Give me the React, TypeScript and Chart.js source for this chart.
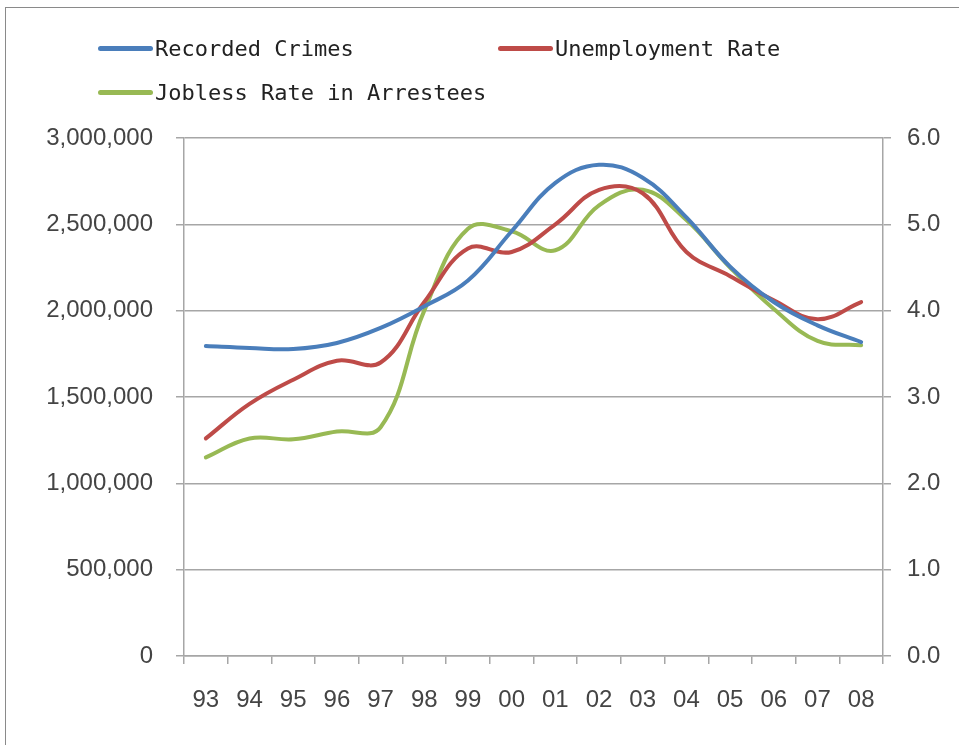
import React, { useEffect, useRef } from "react";
import { Chart, registerables } from "chart.js";

Chart.register(...registerables);

const years = ["93", "94", "95", "96", "97", "98", "99", "00", "01", "02", "03", "04", "05", "06", "07", "08"];
const recordedCrimes = [1795000, 1784000, 1778000, 1813000, 1900000, 2025000, 2175000, 2460000, 2740000, 2845000, 2770000, 2540000, 2255000, 2050000, 1915000, 1818000];
const unemploymentRate = [2.52, 2.92, 3.2, 3.42, 3.4, 4.1, 4.72, 4.68, 5.0, 5.4, 5.36, 4.68, 4.4, 4.12, 3.9, 4.1];
const joblessRateInArrestees = [2.3, 2.52, 2.51, 2.6, 2.65, 4.0, 4.95, 4.92, 4.7, 5.22, 5.4, 5.05, 4.5, 4.02, 3.65, 3.6];

const BLUE = "#4a7ebb";
const RED = "#be4b48";
const GREEN = "#98b954";
const GRID = "#a6a6a6";
const TICK_FONT = { family: "'Liberation Sans', Arial, sans-serif", size: 24 };
const TICK_COLOR = "#444";

const legendItems = [
  { label: "Recorded Crimes", color: BLUE, x: 98, y: 48 },
  { label: "Unemployment Rate", color: RED, x: 498, y: 48 },
  { label: "Jobless Rate in Arrestees", color: GREEN, x: 98, y: 92 },
];

export default function App() {
  const ref = useRef<HTMLCanvasElement>(null);

  useEffect(() => {
    if (!ref.current) return;
    const chart = new Chart(ref.current, {
      type: "line",
      data: {
        labels: years,
        datasets: [
          { label: "Recorded Crimes", data: recordedCrimes, borderColor: BLUE, yAxisID: "y" },
          { label: "Unemployment Rate", data: unemploymentRate, borderColor: RED, yAxisID: "y1" },
          { label: "Jobless Rate in Arrestees", data: joblessRateInArrestees, borderColor: GREEN, yAxisID: "y1" },
        ].map((d) => ({ ...d, borderWidth: 4, pointRadius: 0, tension: 0.4, fill: false, borderCapStyle: "round" as const })),
      },
      options: {
        responsive: false,
        animation: false,
        layout: { padding: { top: 138, left: 0, right: 0, bottom: 0 } },
        plugins: { legend: { display: false }, tooltip: { enabled: false }, title: { display: false } },
        scales: {
          x: {
            type: "category",
            offset: true,
            grid: { offset: true, drawOnChartArea: false, tickLength: 8, color: GRID, lineWidth: 1.5 },
            border: { color: GRID, width: 1.5 },
            ticks: { font: TICK_FONT, color: TICK_COLOR, padding: 22, maxRotation: 0, autoSkip: false },
            afterFit: (s: any) => { s.height = 89; },
          },
          y: {
            position: "left",
            min: 0,
            max: 3000000,
            grid: { color: GRID, lineWidth: 1.5, tickLength: 8 },
            border: { color: GRID, width: 1.5 },
            ticks: {
              stepSize: 500000,
              font: TICK_FONT,
              color: TICK_COLOR,
              padding: 23,
              callback: (v: any) => Number(v).toLocaleString("en-US"),
            },
            afterFit: (s: any) => { s.width = 184; },
          },
          y1: {
            position: "right",
            min: 0,
            max: 6,
            grid: { drawOnChartArea: false, color: GRID, lineWidth: 1.5, tickLength: 8 },
            border: { color: GRID, width: 1.5 },
            ticks: {
              stepSize: 1,
              font: TICK_FONT,
              color: TICK_COLOR,
              padding: 16,
              callback: (v: any) => Number(v).toFixed(1),
            },
            afterFit: (s: any) => { s.width = 76; },
          },
        },
      },
    });
    return () => chart.destroy();
  }, []);

  return (
    <div style={{ position: "absolute", left: 0, top: 0, width: 959, height: 745, overflow: "hidden", background: "#fff" }}>
      <div style={{ position: "absolute", left: 5, top: 7, width: 1000, height: 800, borderLeft: "1.5px solid #8a8a8a", borderTop: "1.5px solid #8a8a8a" }} />
      <canvas ref={ref} width={959} height={745} style={{ position: "absolute", left: 0, top: 0 }} />
      {legendItems.map((it) => (
        <div key={it.label} style={{ position: "absolute", left: it.x, top: it.y - 14, height: 28, display: "flex", alignItems: "center" }}>
          <div style={{ width: 55, height: 5, borderRadius: 2.5, background: it.color }} />
          <span style={{ marginLeft: 2, font: "22px 'DejaVu Sans Mono', monospace", color: "#222", whiteSpace: "pre" }}>{it.label}</span>
        </div>
      ))}
    </div>
  );
}
